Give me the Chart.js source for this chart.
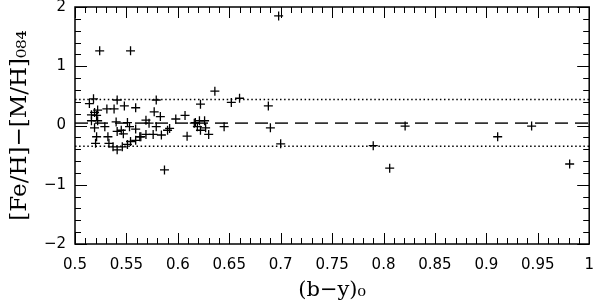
<!DOCTYPE html>
<html>
<head>
<meta charset="utf-8">
<script src="https://cdn.jsdelivr.net/npm/chart.js@4"></script>
<style>
  html, body { margin: 0; padding: 0; background: #fff; }
  #wrap { width: 595px; height: 305px; }
</style>
</head>
<body>
<div id="wrap"><canvas id="myChart" width="595" height="305"></canvas></div>
<script>
// (b-y)0 colour of each star
const byColour = [0.524, 0.554, 0.698, 0.636, 0.660, 0.652, 0.688, 0.622, 0.645, 0.690, 0.700, 0.790, 0.806, 0.821, 0.911, 0.944, 0.981, 0.587,
    0.518, 0.514, 0.541, 0.522, 0.519, 0.531, 0.538, 0.548, 0.559, 0.579, 0.577, 0.583, 0.516, 0.521,
    0.516, 0.522, 0.540, 0.551, 0.529, 0.519, 0.553, 0.541, 0.559, 0.569, 0.572, 0.579, 0.598, 0.607, 0.617, 0.619, 0.616, 0.621, 0.626, 0.622, 0.627, 0.630, 0.609, 0.590, 0.592, 0.569, 0.576, 0.584, 0.564,
    0.521, 0.532, 0.520, 0.533, 0.537, 0.541, 0.546, 0.551, 0.559, 0.563, 0.545, 0.547, 0.554];
// [Fe/H] - [M/H]084 difference
const metalDiff = [1.26, 1.26, 1.85, 0.58, 0.46, 0.39, 0.33, 0.36, -0.02, -0.04, -0.31, -0.34, -0.72, -0.01, -0.19, -0.01, -0.65, -0.75,
    0.45, 0.37, 0.43, 0.26, 0.22, 0.28, 0.28, 0.33, 0.30, 0.43, 0.23, 0.15, 0.18, 0.17,
    0.08, 0.08, 0.06, 0.05, -0.02, -0.04, -0.02, -0.10, -0.06, 0.09, 0.04, -0.02, 0.11, 0.17, 0.05, -0.02, 0.04, 0.08, 0.08, -0.08, -0.04, -0.15, -0.18, -0.08, -0.05, -0.15, -0.15, -0.16, -0.19,
    -0.19, -0.19, -0.30, -0.30, -0.36, -0.41, -0.36, -0.32, -0.25, -0.19, -0.08, -0.14, -0.27];

// horizontal reference lines: mean and +/- 1 sigma
const lineX = [0.5, 1.0];
const meanLevel = 0.04;
const upperLevel = 0.44;
const lowerLevel = -0.35;

const xTicks = [0.5, 0.55, 0.6, 0.65, 0.7, 0.75, 0.8, 0.85, 0.9, 0.95, 1];
const yTicks = [-2, -1, 0, 1, 2];

const stars = byColour.map((x, i) => ({x: x, y: metalDiff[i]}));
const flatLine = level => lineX.map(x => ({x: x, y: level}));

// box frame with inward ticks on all four sides
const frameTicks = {
    id: 'frameTicks',
    afterDatasetsDraw(chart) {
        const {ctx, chartArea: a, scales: {x, y}} = chart;
        ctx.save();
        ctx.strokeStyle = '#000';
        ctx.lineWidth = 1.5;
        ctx.strokeRect(a.left, a.top, a.right - a.left, a.bottom - a.top);
        ctx.lineWidth = 1;
        ctx.beginPath();
        for (let i = 0; i <= 50; i++) {
            const px = Math.round(x.getPixelForValue(0.5 + i * 0.01)) + 0.5;
            const len = i % 5 === 0 ? 11 : 6;
            ctx.moveTo(px, a.bottom); ctx.lineTo(px, a.bottom - len);
            ctx.moveTo(px, a.top); ctx.lineTo(px, a.top + len);
        }
        for (let i = 0; i <= 20; i++) {
            const py = Math.round(y.getPixelForValue(-2 + i * 0.2)) + 0.5;
            const len = i % 5 === 0 ? 12 : 6;
            ctx.moveTo(a.left, py); ctx.lineTo(a.left + len, py);
            ctx.moveTo(a.right, py); ctx.lineTo(a.right - len, py);
        }
        ctx.stroke();
        ctx.restore();
    }
};

const ctx = document.getElementById('myChart');
new Chart(ctx, {
    type: 'scatter',
    data: {
        datasets: [{
            label: 'stars',
            data: stars,
            pointStyle: 'cross',
            pointRadius: 4.5,
            pointBorderWidth: 1.3,
            borderColor: '#000',
            backgroundColor: '#000'
        },
        {
            type: 'line',
            label: 'mean',
            data: flatLine(meanLevel),
            borderColor: '#333',
            borderWidth: 1.8,
            borderDash: [13, 7],
            pointRadius: 0
        },
        {
            type: 'line',
            label: 'upper',
            data: flatLine(upperLevel),
            borderColor: '#000',
            borderWidth: 1.5,
            borderDash: [1.5, 2.6],
            pointRadius: 0
        },
        {
            type: 'line',
            label: 'lower',
            data: flatLine(lowerLevel),
            borderColor: '#000',
            borderWidth: 1.5,
            borderDash: [1.5, 2.6],
            pointRadius: 0
        }]
    },
    options: {
        responsive: false,
        animation: false,
        layout: { padding: { top: 7, right: 1, left: 0, bottom: 0 } },
        scales: {
            x: {
                type: 'linear',
                min: 0.5,
                max: 1,
                afterBuildTicks: s => { s.ticks = xTicks.map(v => ({value: v})); },
                afterFit: s => { s.height = 61; s.paddingLeft = 0; s.paddingRight = 0; },
                grid: { display: false, drawTicks: false },
                border: { display: false },
                ticks: {
                    padding: 12,
                    color: '#000',
                    maxRotation: 0,
                    autoSkip: false,
                    font: { family: 'DejaVu Sans', size: 15 },
                    callback: v => String(parseFloat(v.toFixed(2)))
                },
                title: {
                    display: true,
                    text: '(b\u2212y)\u2080',
                    color: '#000',
                    font: { family: 'DejaVu Serif', size: 21 },
                    padding: { top: 0, bottom: 2 }
                }
            },
            y: {
                type: 'linear',
                min: -2,
                max: 2,
                afterBuildTicks: s => { s.ticks = yTicks.map(v => ({value: v})); },
                afterFit: s => { s.width = 75; s.paddingTop = 0; s.paddingBottom = 0; },
                grid: { display: false, drawTicks: false },
                border: { display: false },
                ticks: {
                    padding: 9,
                    color: '#000',
                    font: { family: 'DejaVu Sans', size: 15 },
                    callback: v => v < 0 ? '\u2212' + Math.abs(v) : String(v)
                },
                title: {
                    display: true,
                    text: '[Fe/H]\u2212[M/H]\u2080\u2088\u2084',
                    color: '#000',
                    font: { family: 'DejaVu Serif', size: 23 },
                    padding: { top: 6, bottom: 2 }
                }
            }
        },
        plugins: {
            legend: { display: false },
            tooltip: { enabled: false }
        }
    },
    plugins: [frameTicks]
});
</script>
</body>
</html>
